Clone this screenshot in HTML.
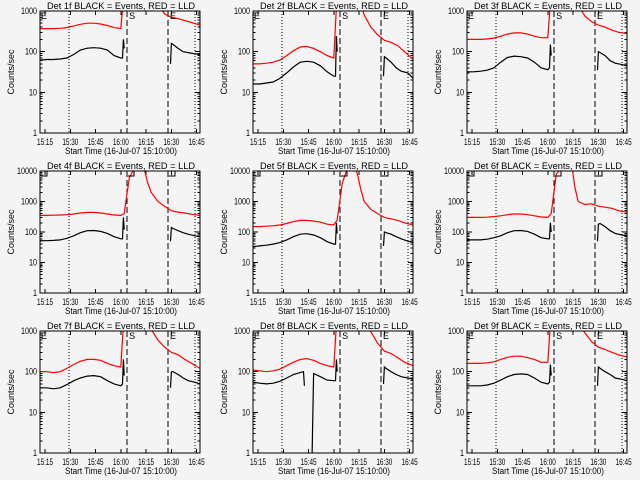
<!DOCTYPE html>
<html><head><meta charset="utf-8"><style>
html,body{margin:0;padding:0;background:#f4f4f4;}
svg{display:block;}
text{font-family:"Liberation Sans",sans-serif;font-size:9px;fill:#000;}
</style></head><body>
<svg id="chart" width="640" height="480" viewBox="0 0 640 480" shape-rendering="crispEdges"></svg>
<script>
// ---- data ----
const panelNames = ['1f','2f','3f','4f','5f','6f','7f','8f','9f'];
const panelDecades = [3,3,3,4,4,4,3,3,3];
const xTickLabels = ['15:15','15:30','15:45','16:00','16:15','16:30','16:45'];
const xTickMinutes = [5,20,35,50,65,80,95];
const dottedMinutes = [19.2,94];
const dashedMinutes = [53.7,78];
const tRed = [2,6,10,14,18,22,26,30,34,38,42,46,50,52,55,58,61,64,66,68,72,76,80,84,88,92,97];
const red1 = [370,370,370,375,390,430,470,500,500,480,440,390,370,3000,1e5,1e5,1e5,1e5,1e5,1e5,1500,850,700,650,580,520,450];
const red2 = [50,50,52,55,62,80,105,130,135,120,100,80,70,3000,1e5,1e5,1e5,1e5,1500,800,400,260,190,170,140,100,65];
const red3 = [200,200,200,205,215,240,270,290,290,270,240,220,220,3000,1e5,1e5,1e5,1e5,2000,1400,750,550,450,400,340,300,280];
const red4 = [350,350,355,360,370,390,420,440,440,420,390,360,350,400,6000,12000,2e4,11000,4000,2000,1000,700,500,450,420,380,350];
const red5 = [150,150,155,160,170,190,220,240,240,230,210,180,170,250,4000,12000,2e4,8000,2500,1000,550,400,300,270,240,200,170];
const red6 = [300,300,300,305,320,340,370,390,390,370,340,310,300,400,8000,12000,2e4,2e4,3000,1000,800,850,700,650,600,500,450];
const red7 = [100,100,95,100,120,150,180,200,200,190,160,140,130,3000,1e5,1e5,1e5,1e5,2000,1100,600,400,300,260,200,160,120];
const red8 = [110,105,100,105,115,140,170,200,210,190,160,140,130,3000,1e5,1e5,1e5,1e5,3000,2000,950,500,320,280,220,170,140];
const red9 = [160,160,160,165,175,200,225,240,240,220,200,170,170,3000,1e5,1e5,1e5,1e5,2500,1600,900,550,400,350,300,260,230];
const tBlkA = [2,6,10,14,18,22,26,30,34,38,42,46,50,51,51.5,52];
const tBlkA8 = [2,6,10,14,18,22,26,30,32,32.5,35,37,38,42,46,50,51,51.5,52];
const blkA1 = [62,64,64,66,70,85,110,122,125,122,110,80,70,70,200,120];
const blkA2 = [16,16,17,18,22,30,42,55,58,55,45,32,25,25,240,100];
const blkA3 = [32,32,33,35,40,55,72,78,75,70,55,40,36,40,150,80];
const blkA4 = [52,52,53,55,62,75,95,110,112,105,90,70,60,60,300,120];
const blkA5 = [33,35,37,40,45,55,70,85,88,80,65,48,40,40,200,90];
const blkA6 = [55,55,55,58,65,75,95,110,112,105,85,65,60,60,200,100];
const blkA7 = [40,40,38,40,48,60,70,78,80,75,60,50,45,50,200,80];
const blkA8 = [55,52,50,52,58,70,85,95,100,45,null,0.5,90,75,62,60,60,200,100];
const blkA9 = [45,45,45,47,52,62,75,85,88,85,70,55,50,55,150,80];
const tBlkB = [79.5,80,81,84,87,90,94,97];
const blkB1 = [50,160,150,120,100,95,88,85];
const blkB2 = [25,75,70,55,40,33,30,22];
const blkB3 = [35,100,95,80,60,52,48,45];
const blkB4 = [50,140,130,110,95,85,75,70];
const blkB5 = [35,100,95,85,70,60,50,45];
const blkB6 = [50,180,190,150,110,90,80,75];
const blkB7 = [40,100,100,85,70,60,55,50];
const blkB8 = [50,130,120,100,85,75,70,65];
const blkB9 = [45,130,120,100,85,70,65,60];

const reds = [red1,red2,red3,red4,red5,red6,red7,red8,red9];
const blkAs = [blkA1,blkA2,blkA3,blkA4,blkA5,blkA6,blkA7,blkA8,blkA9];
const blkBs = [blkB1,blkB2,blkB3,blkB4,blkB5,blkB6,blkB7,blkB8,blkB9];

const NS = 'http://www.w3.org/2000/svg';
const svg = document.getElementById('chart');
function mk(tag, attrs, parent){ const e=document.createElementNS(NS,tag); for(const k in attrs) e.setAttribute(k,attrs[k]); parent.appendChild(e); return e; }

const L=40,R=200,T=11,B=133;
const offX=[0,213,427], offY=[0,160,320];
function xs(t){ return L+(t-2)*(R-L)/95; }

for(let p=0;p<9;p++){
  const dec = panelDecades[p];
  function ys(v){ return B-Math.log10(v)/dec*(B-T); }
  const g = mk('g',{transform:`translate(${offX[p%3]},${offY[Math.floor(p/3)]})`},svg);
  
  
  const cp = mk('clipPath',{id:'cp'+p},g);
  mk('rect',{x:L,y:T,width:R-L,height:B-T},cp);

  const title = mk('text',{x:47,y:9,textLength:148,lengthAdjust:'spacingAndGlyphs','font-size':'9'},g);
  title.textContent = 'Det '+panelNames[p]+' BLACK = Events, RED = LLD';
  
  

  const yt = mk('text',{x:14,y:72,'text-anchor':'middle',transform:'rotate(-90 14 72)','font-size':'8'},g);
  yt.textContent='Counts/sec';
  
  

  const xt = mk('text',{x:65,y:154,textLength:112,lengthAdjust:'spacingAndGlyphs','font-size':'9'},g);
  xt.textContent='Start Time (16-Jul-07 15:10:00)';
  
  

  // y ticks
  for(let d=0; d<=dec; d++){
    const y = ys(Math.pow(10,d));
    mk('line',{x1:L,y1:y,x2:L+5,y2:y,stroke:'#000'},g);
    mk('line',{x1:R-5,y1:y,x2:R,y2:y,stroke:'#000'},g);
    const s = String(Math.pow(10,d));
    const w = s.length*4;
    const lab = mk('text',{x:37-w,y:y+3,textLength:w,lengthAdjust:'spacingAndGlyphs','font-size':'8'},g);
    lab.textContent = s;
    
    
    if(d<dec){ for(let m=2;m<10;m++){ const ym=ys(m*Math.pow(10,d));
      mk('line',{x1:L,y1:ym,x2:L+2.5,y2:ym,stroke:'#000'},g);
      mk('line',{x1:R-2.5,y1:ym,x2:R,y2:ym,stroke:'#000'},g);} }
  }
  // x ticks
  for(let i=0;i<xTickMinutes.length;i++){
    const x = xs(xTickMinutes[i]);
    mk('line',{x1:x,y1:B,x2:x,y2:B-4,stroke:'#000'},g);
    mk('line',{x1:x,y1:T,x2:x,y2:T+4,stroke:'#000'},g);
    const lab = mk('text',{x:x-8,y:145,textLength:16,lengthAdjust:'spacingAndGlyphs','font-size':'8'},g);
    lab.textContent = xTickLabels[i];
    
    
  }
  // vertical markers
  dottedMinutes.forEach(m=>{ const l=mk('line',{x1:xs(m),y1:T,x2:xs(m),y2:B,stroke:'#000','stroke-dasharray':'1 2'},g);
      });
  dashedMinutes.forEach(m=>{ const l=mk('line',{x1:xs(m),y1:T,x2:xs(m),y2:B,stroke:'#000','stroke-dasharray':'6 3'},g);
      });

  function series(ts, vs, color, name){
    let d='', pen=false;
    for(let i=0;i<ts.length;i++){
      if(vs[i]===null){pen=false;continue;}
      d += (pen?'L':'M')+xs(ts[i]).toFixed(1)+' '+ys(vs[i]).toFixed(1)+' ';
      pen=true;
    }
    const path = mk('path',{d:d,fill:'none',stroke:color,'stroke-width':'1.2','clip-path':`url(#cp${p})`,'shape-rendering':'auto'},g);
    
    
  }
  series(tRed, reds[p], '#ff0000', 'lld-series');
  series(p===7?tBlkA8:tBlkA, blkAs[p], '#000', 'events-series-pre');
  series(tBlkB, blkBs[p], '#000', 'events-series-post');

  // markers E / S
  if(dec===3){
    [[L+1,'E'],[xs(dashedMinutes[0])+2,'S'],[xs(dashedMinutes[1])+2,'E']].forEach(a=>{
      const t=mk('text',{x:a[0],y:T+8,'font-size':'10'},g); t.textContent=a[1];
       
    });
  } else {
    [L+1,xs(dashedMinutes[0])+1,xs(dashedMinutes[1])+1].forEach(x0=>{
      const pl=mk('polyline',{points:`${x0},${T+5} ${x0+6},${T+5} ${x0+6},${T}`,fill:'none',stroke:'#000'},g);
       
    });
  }
  const frame = mk('rect',{x:L,y:T,width:R-L,height:B-T,fill:'none',stroke:'#000'},g);
  
  
}
</script>
</body></html>
